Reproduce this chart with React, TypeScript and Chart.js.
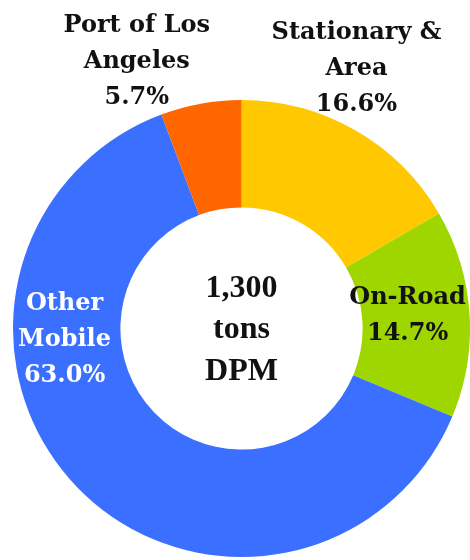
import React, { useEffect, useRef } from "react";
import { Chart, registerables } from "chart.js";

Chart.register(...registerables);

const categories = ["Stationary & Area", "On-Road", "Other Mobile", "Port of Los Angeles"];
const shares = [16.6, 14.7, 63.0, 5.7];
const colors = ["#FFC800", "#A0D600", "#3B6FFF", "#FF6600"];
const labelLines = [
  ["Stationary &", "Area", "16.6%"],
  ["On-Road", "14.7%"],
  ["Other", "Mobile", "63.0%"],
  ["Port of Los", "Angeles", "5.7%"],
];
const labelColors = ["#111111", "#111111", "#FFFFFF", "#111111"];
const centerLines = ["1,300", "tons", "DPM"];

// label anchor: angle (deg clockwise from top), radius as multiple of outer radius
const labelAnchors = [
  { angle: 23.9, r: 1.242, weight: "bold" },
  { angle: 85.5, r: 0.729, weight: "bold" },
  { angle: 266.3, r: 0.776, weight: "bold" },
  { angle: -21.4, r: 1.256, weight: "bold" },
];

const LABEL_FONT = '"DejaVu Serif", "Liberation Serif", serif';
const CENTER_FONT = '"Liberation Serif", "DejaVu Serif", serif';

const labelPlugin = {
  id: "customLabels",
  afterDraw(chart: any) {
    const meta = chart.getDatasetMeta(0);
    const arc = meta.data[0];
    if (!arc) return;
    const { x: cx, y: cy, outerRadius } = arc.getProps(["x", "y", "outerRadius"], true);
    const ctx = chart.ctx;
    ctx.save();
    ctx.textAlign = "center";
    ctx.textBaseline = "middle";
    labelLines.forEach((lines, i) => {
      const a = labelAnchors[i];
      const rad = (a.angle * Math.PI) / 180;
      const x = cx + Math.sin(rad) * outerRadius * a.r;
      const y = cy - Math.cos(rad) * outerRadius * a.r;
      const lh = 36;
      ctx.font = `${a.weight} 24px ${LABEL_FONT}`;
      ctx.fillStyle = labelColors[i];
      lines.forEach((t, j) => {
        ctx.fillText(t, x, y + (j - (lines.length - 1) / 2) * lh);
      });
    });
    ctx.font = `bold 32px ${CENTER_FONT}`;
    ctx.fillStyle = "#111111";
    centerLines.forEach((t, j) => {
      ctx.fillText(t, cx, cy + 1.5 + (j - 1) * 41.5);
    });
    ctx.restore();
  },
};

export default function App() {
  const ref = useRef<HTMLCanvasElement>(null);
  useEffect(() => {
    if (!ref.current) return;
    const chart = new Chart(ref.current, {
      type: "doughnut",
      data: {
        labels: categories,
        datasets: [
          {
            data: shares,
            backgroundColor: colors,
            borderWidth: 0,
          },
        ],
      },
      options: {
        responsive: false,
        animation: false,
        cutout: "53%",
        layout: { padding: { left: 13, right: 0, top: 100, bottom: 3 } },
        plugins: {
          legend: { display: false },
          tooltip: { enabled: false },
        },
      },
      plugins: [labelPlugin],
    });
    return () => chart.destroy();
  }, []);
  return (
    <div style={{ position: "absolute", left: 0, top: 0, width: 470, height: 560, background: "#fff" }}>
      <canvas ref={ref} width={470} height={560} />
    </div>
  );
}
